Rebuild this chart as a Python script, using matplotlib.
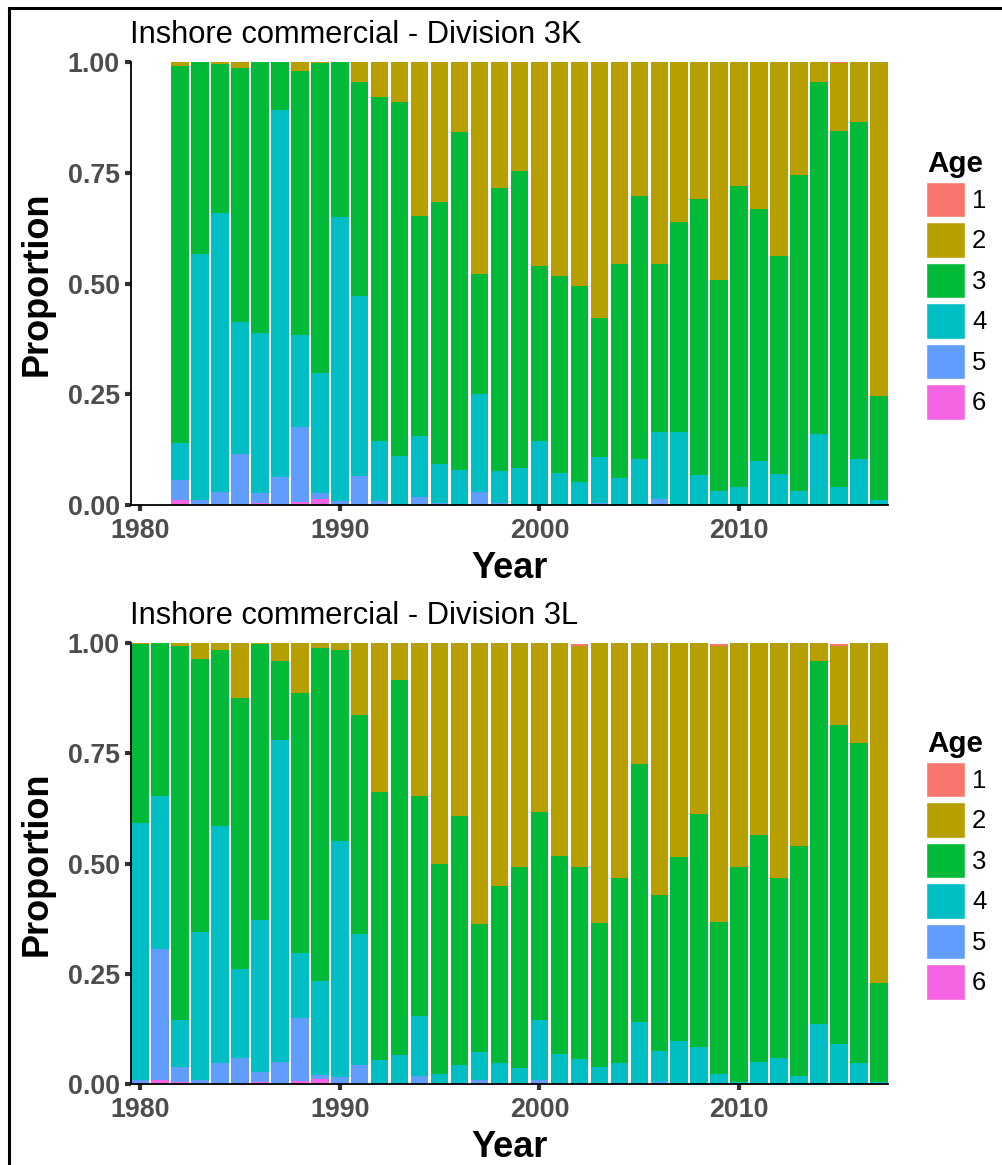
import matplotlib
matplotlib.use("Agg")
import matplotlib.pyplot as plt
from matplotlib.patches import Patch
from matplotlib.lines import Line2D
import numpy as np

plt.rcParams['font.family'] = ['Liberation Sans', 'DejaVu Sans']

ages = ['1', '2', '3', '4', '5', '6']
colors = ['#F8766D', '#B79F00', '#00BA38', '#00BFC4', '#619CFF', '#F564E3']

# ---- Division 3K (1982-2017) ----
years_3k = list(range(1982, 2018))
k_age1 = [0]*33 + [0.002, 0, 0]
k_age2 = [0.008, 0.0, 0.005, 0.014, 0.0, 0.0, 0.021, 0.002, 0.0, 0.046,
          0.080, 0.091, 0.347, 0.317, 0.157, 0.479, 0.284, 0.246, 0.460, 0.484,
          0.505, 0.578, 0.457, 0.302, 0.456, 0.362, 0.309, 0.491, 0.279, 0.332,
          0.437, 0.254, 0.045, 0.153, 0.136, 0.755]
k_age3 = [0.853, 0.434, 0.335, 0.574, 0.612, 0.108, 0.595, 0.700, 0.349, 0.482,
          0.775, 0.798, 0.498, 0.591, 0.765, 0.270, 0.639, 0.671, 0.395, 0.443,
          0.442, 0.313, 0.481, 0.594, 0.380, 0.474, 0.623, 0.478, 0.681, 0.568,
          0.493, 0.714, 0.794, 0.805, 0.761, 0.233]
k_age4 = [0.083, 0.555, 0.630, 0.296, 0.360, 0.828, 0.207, 0.272, 0.642, 0.406,
          0.136, 0.111, 0.136, 0.088, 0.078, 0.221, 0.072, 0.083, 0.145, 0.073,
          0.053, 0.104, 0.062, 0.104, 0.151, 0.164, 0.068, 0.031, 0.040, 0.100,
          0.070, 0.032, 0.161, 0.040, 0.103, 0.012]
k_age5 = [0.045, 0.011, 0.030, 0.116, 0.023, 0.064, 0.170, 0.012, 0.009, 0.066,
          0.009, 0.0, 0.019, 0.004, 0.0, 0.030, 0.005, 0.0, 0.0, 0.0,
          0.0, 0.005, 0.0, 0.0, 0.013, 0.0, 0.0, 0.0, 0.0, 0.0,
          0.0, 0.0, 0.0, 0.0, 0.0, 0.0]
k_age6 = [0.011, 0.0, 0.0, 0.0, 0.005, 0.0, 0.007, 0.014] + [0.0]*28

# ---- Division 3L (1980-2017) ----
years_3l = list(range(1980, 2018))
l_age1 = [0]*22 + [0.003] + [0]*6 + [0.003] + [0]*5 + [0.003, 0, 0]
l_age2 = [0.002, 0.0, 0.007, 0.037, 0.017, 0.125, 0.002, 0.040, 0.113, 0.011,
          0.016, 0.164, 0.338, 0.085, 0.348, 0.502, 0.392, 0.638, 0.552, 0.509,
          0.384, 0.482, 0.503, 0.634, 0.533, 0.275, 0.571, 0.486, 0.388, 0.627,
          0.509, 0.435, 0.533, 0.461, 0.040, 0.179, 0.227, 0.771]
l_age3 = [0.406, 0.347, 0.848, 0.618, 0.398, 0.615, 0.626, 0.181, 0.591, 0.756,
          0.433, 0.495, 0.607, 0.850, 0.498, 0.476, 0.566, 0.290, 0.401, 0.455,
          0.471, 0.450, 0.434, 0.328, 0.419, 0.585, 0.354, 0.417, 0.527, 0.345,
          0.486, 0.514, 0.407, 0.520, 0.823, 0.724, 0.725, 0.225]
l_age4 = [0.583, 0.348, 0.107, 0.335, 0.537, 0.200, 0.344, 0.728, 0.146, 0.212,
          0.534, 0.298, 0.055, 0.065, 0.135, 0.022, 0.042, 0.064, 0.047, 0.036,
          0.137, 0.068, 0.057, 0.038, 0.048, 0.140, 0.071, 0.097, 0.085, 0.022,
          0.005, 0.051, 0.060, 0.019, 0.137, 0.091, 0.048, 0.004]
l_age5 = [0.009, 0.295, 0.033, 0.010, 0.048, 0.057, 0.023, 0.051, 0.144, 0.010,
          0.017, 0.043, 0.0, 0.0, 0.019, 0.0, 0.0, 0.008, 0.0, 0.0,
          0.008, 0.0, 0.0, 0.0, 0.0, 0.0, 0.004, 0.0, 0.0, 0.0,
          0.0, 0.0, 0.0, 0.0, 0.0, 0.0, 0.0, 0.0]
l_age6 = [0.0, 0.010, 0.005, 0.0, 0.0, 0.003, 0.005, 0.0, 0.006, 0.011] + [0.0]*28

panels = [
    ("Inshore commercial - Division 3K", years_3k,
     [k_age1, k_age2, k_age3, k_age4, k_age5, k_age6]),
    ("Inshore commercial - Division 3L", years_3l,
     [l_age1, l_age2, l_age3, l_age4, l_age5, l_age6]),
]

W, H = 1003, 1165
fig = plt.figure(figsize=(W/100, H/100), dpi=100)

def fx(px):
    return px / W

def fy(py):
    return 1 - py / H

# panel pixel geometry: (top, bottom, legend_key_top, title_baseline, xlabel_baseline, legend_title_baseline)
geoms = [(62, 505, 182, 43, 578, 172), (643, 1084, 762, 624, 1157, 752)]
left_px, right_px = 131, 888
tick_col = '#4D4D4D'

for (title, years, series), (top, bot, leg_top, title_base, xlab_base, lt_base) in zip(panels, geoms):
    ax = fig.add_axes([fx(left_px), fy(bot), fx(right_px - left_px), (bot - top)/H])
    x = np.array(years)
    bottom = np.zeros(len(years))
    # stack from age 6 (bottom) to age 1 (top)
    for i in range(5, -1, -1):
        vals = np.array(series[i])
        ax.bar(x, vals, bottom=bottom, width=0.88, color=colors[i], linewidth=0)
        bottom += vals
    ax.set_xlim(1979.55, 2017.45)
    ax.set_ylim(0, 1)
    ax.set_xticks([1980, 1990, 2000, 2010])
    ax.set_yticks([0, 0.25, 0.5, 0.75, 1.0])
    ax.set_yticklabels(['0.00', '0.25', '0.50', '0.75', '1.00'])
    for s in ['top', 'right']:
        ax.spines[s].set_visible(False)
    for s in ['left', 'bottom']:
        ax.spines[s].set_linewidth(1.3)
        ax.spines[s].set_color('black')
    ax.tick_params(axis='both', length=4, width=3, color='#333333',
                   labelsize=19.3, labelcolor=tick_col)
    ax.tick_params(axis='x', pad=5.5)
    ax.tick_params(axis='y', pad=4)
    for lab in ax.get_xticklabels() + ax.get_yticklabels():
        lab.set_fontweight('bold')
    ax.set_facecolor('white')

    fig.text(fx(130), fy(title_base), title, fontsize=22.2, ha='left', va='baseline',
             color='black')
    fig.text(fx((left_px + right_px) / 2), fy(xlab_base), 'Year', fontsize=26,
             fontweight='bold', ha='center', va='baseline')
    fig.text(fx(37), fy((top + bot) / 2), 'Proportion', fontsize=26, fontweight='bold',
             rotation=90, ha='center', va='center')

    # legend title
    fig.text(fx(927), fy(lt_base), 'Age', fontsize=21.3, fontweight='bold',
             ha='left', va='baseline')
    handles = [Patch(facecolor=c, edgecolor='white', linewidth=1) for c in colors]
    leg = fig.legend(handles, ages, loc='upper left',
                     bbox_to_anchor=(fx(926), fy(leg_top)), bbox_transform=fig.transFigure,
                     frameon=False, fontsize=18.5,
                     handlelength=1.5, handleheight=1.74, labelspacing=0.2,
                     handletextpad=0.3, borderpad=0, borderaxespad=0)

# image border (left and top)
fig.add_artist(Line2D([fx(9), fx(9)], [fy(8), 0], color='black', linewidth=2.2,
                      transform=fig.transFigure))
fig.add_artist(Line2D([fx(9), 1], [fy(8), fy(8)], color='black', linewidth=2.2,
                      transform=fig.transFigure))

fig.savefig('out.png', dpi=100)
